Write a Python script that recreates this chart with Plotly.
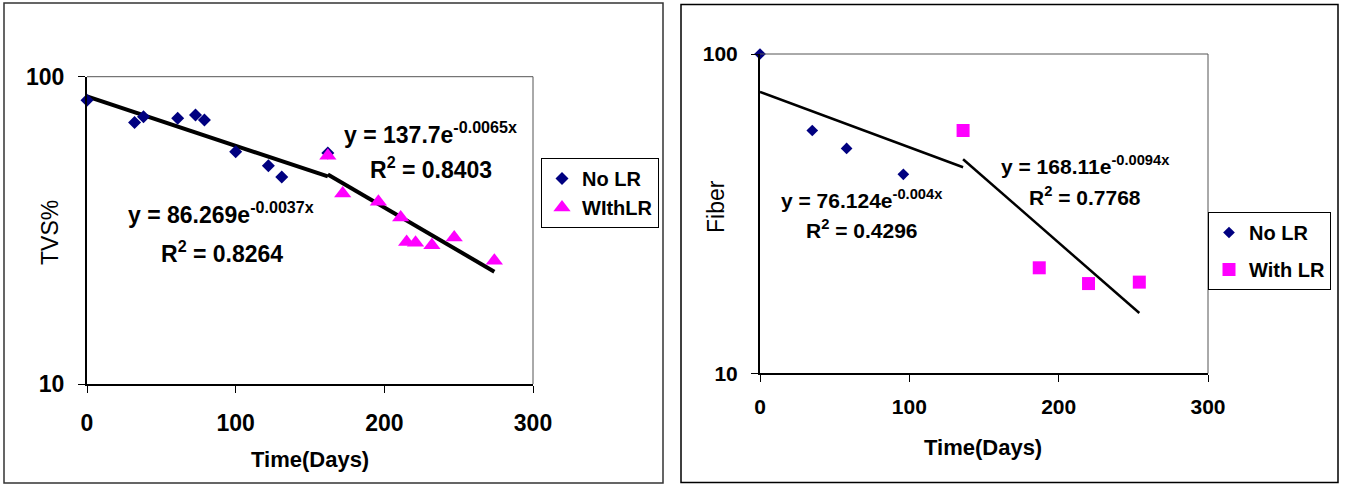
import numpy as np
import plotly.graph_objects as go

W, H = 1346, 484
def px(x):
    return x / W
def py(y):
    return 1 - y / H

# ---------------- data ----------------
# Left chart: TVS%
tvs_nolr_days = [0, 32, 38, 61, 73, 79, 100, 122, 131, 162]
tvs_nolr_vals = [83.9, 71.0, 74.1, 73.2, 75.0, 72.3, 57.0, 51.3, 47.2, 56.5]
tvs_withlr_days = [162, 172, 196, 211, 215, 221, 232, 247, 274]
tvs_withlr_vals = [55.3, 41.7, 39.2, 34.8, 29.0, 28.8, 28.3, 30.0, 25.2]
# exponential trendline coefficients shown on the chart (a, b for y = a e^(b x))
tvs_nolr_fit = (86.269, -0.0037)
tvs_withlr_fit = (137.7, -0.0065)

# Right chart: Fiber
fib_nolr_days = [0, 35, 58, 96, 136]
fib_nolr_vals = [100, 57.6, 50.6, 42.0, 57.6]
fib_withlr_days = [136, 187, 220, 254]
fib_withlr_vals = [57.6, 21.4, 19.1, 19.3]
fib_nolr_fit = (76.124, -0.004)
fib_withlr_fit = (168.11, -0.0094)

x_ticks = [0, 100, 200, 300]
y_ticks = [10, 100]
y_ticktext = ["10", "100"]

FONT = "Liberation Sans, Arial, sans-serif"
NAVY = "#000080"
MAGENTA = "#FF00FF"


def trend(days, fit):
    a, b = fit
    xs = np.linspace(min(days), max(days), 60)
    return xs, a * np.exp(b * xs)


fig = go.Figure()

# trendlines (left)
for days, fit in [(tvs_nolr_days, tvs_nolr_fit), (tvs_withlr_days, tvs_withlr_fit)]:
    xs, ys = trend(days, fit)
    fig.add_trace(go.Scatter(x=xs, y=ys, mode="lines", line=dict(color="black", width=4),
                             showlegend=False, hoverinfo="skip", xaxis="x", yaxis="y"))
fig.add_trace(go.Scatter(x=tvs_nolr_days, y=tvs_nolr_vals, mode="markers", name="No LR",
                         marker=dict(symbol="diamond", size=10, color=NAVY), cliponaxis=False,
                         xaxis="x", yaxis="y", legend="legend"))
fig.add_trace(go.Scatter(x=tvs_withlr_days, y=tvs_withlr_vals, mode="markers", name="WIthLR",
                         marker=dict(symbol="triangle-up", size=15, color=MAGENTA), cliponaxis=False,
                         xaxis="x", yaxis="y", legend="legend"))

# trendlines (right)
for days, fit in [(fib_nolr_days, fib_nolr_fit), (fib_withlr_days, fib_withlr_fit)]:
    xs, ys = trend(days, fit)
    fig.add_trace(go.Scatter(x=xs, y=ys, mode="lines", line=dict(color="black", width=2.5),
                             showlegend=False, hoverinfo="skip", xaxis="x2", yaxis="y2"))
fig.add_trace(go.Scatter(x=fib_nolr_days, y=fib_nolr_vals, mode="markers", name="No LR",
                         marker=dict(symbol="diamond", size=9, color=NAVY), cliponaxis=False,
                         xaxis="x2", yaxis="y2", legend="legend2", legendgroup="a"))
fig.add_trace(go.Scatter(x=fib_withlr_days, y=fib_withlr_vals, mode="markers", name="With LR",
                         marker=dict(symbol="square", size=13, color=MAGENTA), cliponaxis=False,
                         xaxis="x2", yaxis="y2", legend="legend2", legendgroup="b"))


def xaxis(domain, anchor, size, standoff):
    return dict(domain=domain, anchor=anchor, range=[0, 300], tickvals=x_ticks,
                ticks="outside", ticklen=7, tickcolor="black", tickwidth=1,
                showline=True, linecolor="black", linewidth=2, showgrid=False, zeroline=False,
                tickfont=dict(family=FONT, size=size, color="black", weight="bold"),
                ticklabelstandoff=standoff, automargin=False)


def yaxis(domain, anchor, size, standoff):
    return dict(domain=domain, anchor=anchor, type="log", range=[1, 2], tickvals=y_ticks,
                ticktext=y_ticktext, ticks="outside", ticklen=7, tickcolor="black", tickwidth=1,
                showline=True, linecolor="black", linewidth=2, showgrid=False, zeroline=False,
                tickfont=dict(family=FONT, size=size, color="black", weight="bold"),
                ticklabelstandoff=standoff, automargin=False)


L_x0, L_x1, L_y0, L_y1 = 87, 533, 384, 76.7
R_x0, R_x1, R_y0, R_y1 = 760, 1208, 373.3, 54

fig.update_layout(
    width=W, height=H, autosize=False,
    margin=dict(l=0, r=0, t=0, b=0, pad=0, autoexpand=False),
    paper_bgcolor="white", plot_bgcolor="white",
    font=dict(family=FONT, color="black"),
    xaxis=xaxis([px(L_x0), px(L_x1)], "y", 23, 10),
    yaxis=yaxis([py(L_y0), py(L_y1)], "x", 23, 9),
    xaxis2=xaxis([px(R_x0), px(R_x1)], "y2", 21, 6),
    yaxis2=yaxis([py(R_y0), py(R_y1)], "x2", 21, 9),
    legend=dict(x=px(541), y=py(158), xanchor="left", yanchor="top",
                bordercolor="black", borderwidth=1, bgcolor="white",
                font=dict(family=FONT, size=20, color="black", weight="bold"),
                itemwidth=30, tracegroupgap=0),
    legend2=dict(x=px(1208), y=py(212), xanchor="left", yanchor="top",
                 bordercolor="black", borderwidth=1, bgcolor="white",
                 font=dict(family=FONT, size=20, color="black", weight="bold"),
                 itemwidth=30, tracegroupgap=8),
    showlegend=True,
)

shapes = []
# outer chart frames
shapes.append(dict(type="rect", xref="paper", yref="paper", x0=px(4), x1=px(663), y0=py(483), y1=py(3),
                   line=dict(color="#333333", width=1.5)))
shapes.append(dict(type="rect", xref="paper", yref="paper", x0=px(681), x1=px(1338), y0=py(482.5), y1=py(4.5),
                   line=dict(color="black", width=1.5)))
# plot-area top/right borders
for x0, x1, y0, y1 in [(L_x0, L_x1, L_y0, L_y1), (R_x0, R_x1, R_y0, R_y1)]:
    shapes.append(dict(type="line", xref="paper", yref="paper", x0=px(x0), x1=px(x1), y0=py(y1), y1=py(y1),
                       line=dict(color="#555555", width=1)))
    shapes.append(dict(type="line", xref="paper", yref="paper", x0=px(x1), x1=px(x1), y0=py(y1), y1=py(y0),
                       line=dict(color="#555555", width=1)))
fig.update_layout(shapes=shapes)


def ann(x, y, text, size, bold=True, angle=0):
    return dict(x=px(x), y=py(y), xref="paper", yref="paper", text=text, showarrow=False,
                xanchor="center", yanchor="middle", textangle=angle,
                font=dict(family=FONT, size=size, color="black", weight="bold" if bold else "normal"))


annotations = [
    ann(221, 213, "y = 86.269e<sup>-0.0037x</sup>", 23),
    ann(222, 252, "R<sup>2</sup> = 0.8264", 23),
    ann(431, 133, "y = 137.7e<sup>-0.0065x</sup>", 23),
    ann(431, 168, "R<sup>2</sup> = 0.8403", 23),
    ann(862, 199, "y = 76.124e<sup>-0.004x</sup>", 21),
    ann(862, 229, "R<sup>2</sup> = 0.4296", 21),
    ann(1085, 165, "y = 168.11e<sup>-0.0094x</sup>", 21),
    ann(1085, 196, "R<sup>2</sup> = 0.7768", 21),
    ann(310, 459, "Time(Days)", 22),
    ann(983, 447, "Time(Days)", 22),
    ann(50, 233, "TVS%", 23, bold=False, angle=-90),
    ann(716, 207, "Fiber", 23, bold=False, angle=-90),
]
fig.update_layout(annotations=annotations)

post = ("document.documentElement.style.margin='0';document.documentElement.style.padding='0';"
        "document.body.style.margin='0';document.body.style.padding='0';"
        "document.documentElement.style.overflow='hidden';document.body.style.overflow='hidden';")
fig.write_html("out.html", config={"displayModeBar": False},
               default_width="1346px", default_height="484px", post_script=post)
